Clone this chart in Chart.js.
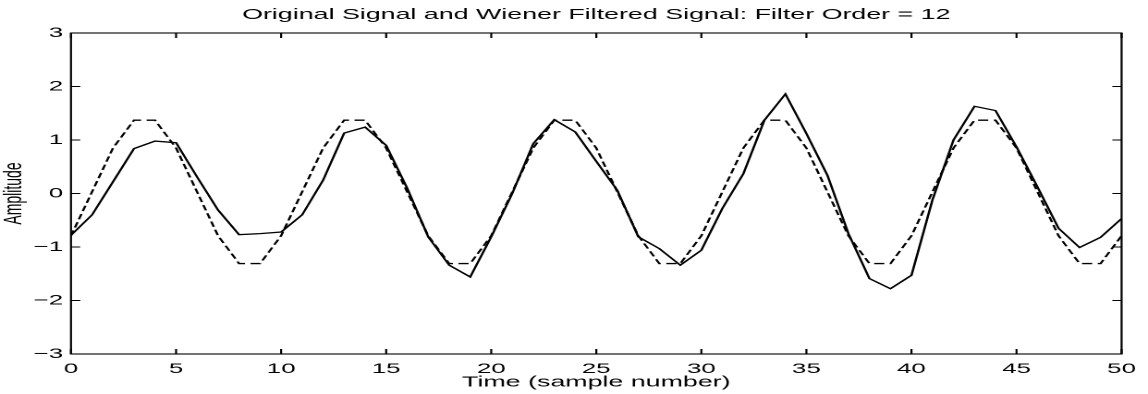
<!DOCTYPE html>
<html>
<head>
<meta charset="utf-8">
<script src="https://cdn.jsdelivr.net/npm/chart.js@4/dist/chart.umd.min.js"></script>
<style>
  html, body { margin: 0; padding: 0; background: #fff; overflow: hidden; }
  #wrap { position: relative; width: 1148px; height: 394px; }
  /* the figure is laid out narrow and stretched sideways */
  #plot { position: absolute; left: 0; top: 0; transform-origin: 0 0; transform: scaleX(1.8486); }
</style>
</head>
<body>
<div id="wrap"><canvas id="plot" width="621" height="394"></canvas></div>
<script>
// wiener filter output (solid) and original sinusoid (dashed), samples 0..50
var filtered = [-0.78, -0.40, 0.22, 0.84, 0.98, 0.95, 0.31, -0.31, -0.77, -0.75,
                -0.72, -0.40, 0.25, 1.13, 1.24, 0.90, 0.10, -0.81, -1.34, -1.56,
                -0.81, 0.00, 0.93, 1.38, 1.15, 0.60, 0.06, -0.81, -1.03, -1.34,
                -1.06, -0.28, 0.37, 1.37, 1.86, 1.12, 0.34, -0.75, -1.59, -1.78,
                -1.53, -0.12, 1.00, 1.63, 1.55, 0.87, 0.12, -0.65, -1.01, -0.82,
                -0.47];
var original = [-0.79, 0.03, 0.85, 1.37, 1.37, 0.85, 0.03, -0.79, -1.31, -1.31,
                -0.79, 0.03, 0.85, 1.37, 1.37, 0.85, 0.03, -0.79, -1.31, -1.31,
                -0.79, 0.03, 0.85, 1.37, 1.37, 0.85, 0.03, -0.79, -1.31, -1.31,
                -0.79, 0.03, 0.85, 1.37, 1.37, 0.85, 0.03, -0.79, -1.31, -1.31,
                -0.79, 0.03, 0.85, 1.37, 1.37, 0.85, 0.03, -0.79, -1.31, -1.31,
                -0.79];
var xTicks = [0, 5, 10, 15, 20, 25, 30, 35, 40, 45, 50];
var yTicks = [-3, -2, -1, 0, 1, 2, 3];

var FONT = "'Liberation Sans', Arial, Helvetica, sans-serif";
var TICK = 5;

function toPoints(arr) {
    return arr.map(function (v, i) { return {x: i, y: v}; });
}

// matlab style box with inward ticks on all four sides
var boxTicks = {
    id: 'boxTicks',
    afterDatasetsDraw: function (chart) {
        var ctx = chart.ctx, a = chart.chartArea;
        var xs = chart.scales.x, ys = chart.scales.y;
        ctx.save();
        ctx.strokeStyle = '#000';
        ctx.lineWidth = 1.1;
        ctx.strokeRect(a.left, a.top, a.right - a.left, a.bottom - a.top);
        ctx.beginPath();
        xs.ticks.forEach(function (t) {
            var px = xs.getPixelForValue(t.value);
            ctx.moveTo(px, a.bottom); ctx.lineTo(px, a.bottom - TICK);
            ctx.moveTo(px, a.top); ctx.lineTo(px, a.top + TICK);
        });
        ys.ticks.forEach(function (t) {
            var py = ys.getPixelForValue(t.value);
            ctx.moveTo(a.left, py); ctx.lineTo(a.left + TICK, py);
            ctx.moveTo(a.right, py); ctx.lineTo(a.right - TICK, py);
        });
        ctx.stroke();
        ctx.restore();
    }
};

new Chart(document.getElementById('plot'), {
    type: 'line',
    data: {
        datasets: [{
            data: toPoints(filtered),
            borderColor: '#000',
            borderWidth: 1.3,
            pointRadius: 0,
            tension: 0
        }, {
            data: toPoints(original),
            borderColor: '#000',
            borderWidth: 1.3,
            borderDash: [5.5, 3],
            pointRadius: 0,
            tension: 0
        }]
    },
    options: {
        responsive: false,
        animation: false,
        devicePixelRatio: 2,
        events: [],
        layout: {padding: {left: 0, right: 11.4, top: 0, bottom: 0}},
        plugins: {
            legend: {display: false},
            tooltip: {enabled: false},
            title: {
                display: true,
                fullSize: false,
                text: 'Original Signal and Wiener Filtered Signal: Filter Order = 12',
                color: '#000',
                font: {family: FONT, size: 14.5, weight: 'normal', lineHeight: 1.2},
                padding: {top: 6.5, bottom: 9.1}
            }
        },
        scales: {
            x: {
                type: 'linear',
                min: 0,
                max: 50,
                afterBuildTicks: function (s) { s.ticks = xTicks.map(function (v) { return {value: v}; }); },
                afterFit: function (s) { s.height = 40; },
                grid: {display: false, drawTicks: false},
                border: {display: false},
                ticks: {
                    color: '#000',
                    padding: 6.5,
                    maxRotation: 0,
                    font: {family: FONT, size: 14}
                },
                title: {
                    display: true,
                    text: 'Time (sample number)',
                    color: '#000',
                    font: {family: FONT, size: 14.5, lineHeight: 1.2},
                    padding: {top: 0, bottom: 3}
                }
            },
            y: {
                min: -3,
                max: 3,
                afterBuildTicks: function (s) { s.ticks = yTicks.map(function (v) { return {value: v}; }); },
                afterFit: function (s) { s.width = 38.4; },
                grid: {display: false, drawTicks: false},
                border: {display: false},
                ticks: {
                    color: '#000',
                    padding: 4.3,
                    font: {family: FONT, size: 14},
                    callback: function (v) { return String(v).replace('-', '\u2212'); }
                },
                title: {
                    display: true,
                    text: 'Amplitude',
                    color: '#000',
                    font: {family: FONT, size: 14, lineHeight: 1.1},
                    padding: {top: 0, bottom: 0}
                }
            }
        }
    },
    plugins: [boxTicks]
});
</script>
</body>
</html>
